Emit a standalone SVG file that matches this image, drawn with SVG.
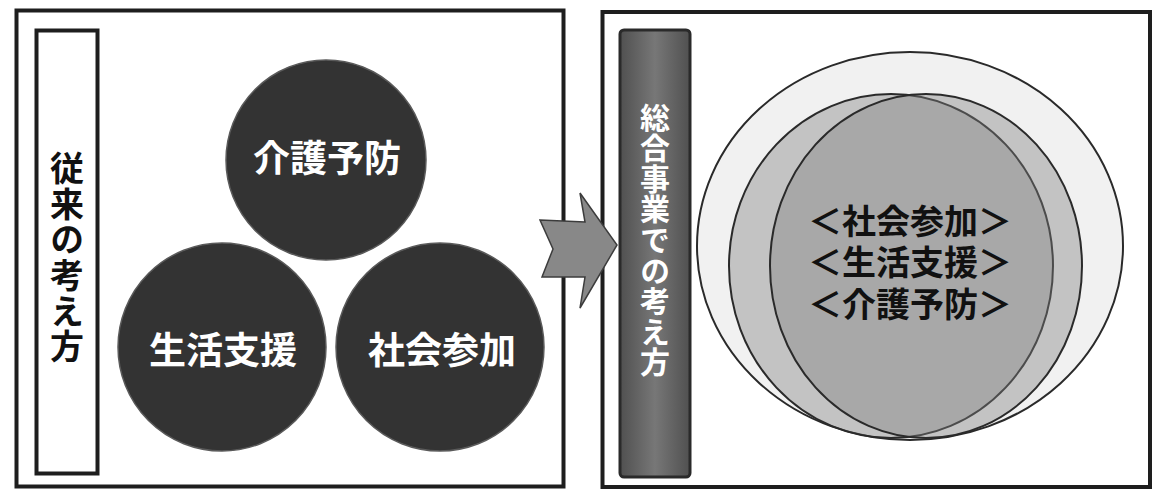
<svg xmlns="http://www.w3.org/2000/svg" width="1153" height="491" viewBox="0 0 1153 491">
  <defs>
    <style>
      .frame { fill: #ffffff; stroke: #1e1e1e; stroke-width: 4; }
      .jp { font-family: "Noto Sans CJK JP", "Noto Sans CJK SC", sans-serif; font-weight: bold; text-anchor: middle; dominant-baseline: central; }
      .vert { writing-mode: vertical-rl; text-orientation: upright; }
      .ball { fill: #333333; stroke: #5a5a5a; stroke-width: 1.5; }
      .ballText { fill: #ffffff; font-size: 37px; }
      .lens { fill: #808080; fill-opacity: 0.4; stroke: #2a2a2a; stroke-width: 2; }
      .inner { fill: #111111; font-size: 34px; }
    </style>
    <linearGradient id="labelFill" x1="0" y1="0" x2="1" y2="0">
      <stop offset="0" stop-color="#505050"/>
      <stop offset="0.5" stop-color="#777777"/>
      <stop offset="1" stop-color="#505050"/>
    </linearGradient>
  </defs>

  <rect width="1153" height="491" fill="#ffffff"/>

  <!-- Left panel -->
  <g id="panel-left">
    <rect class="frame" x="16.5" y="10.5" width="547" height="476"/>
  </g>
  <g id="label-left">
    <rect x="36.5" y="30.5" width="61" height="443" fill="#ffffff" stroke="#1e1e1e" stroke-width="4"/>
    <text class="jp vert" x="67" y="258" font-size="34" letter-spacing="1.6" fill="#111111">従来の考え方</text>
  </g>
  <g id="node-kaigoyobou">
    <circle class="ball" cx="326" cy="160" r="100"/>
    <text class="jp ballText" x="327" y="156">介護予防</text>
  </g>
  <g id="node-seikatsushien">
    <circle class="ball" cx="222" cy="347" r="104"/>
    <text class="jp ballText" x="223" y="348">生活支援</text>
  </g>
  <g id="node-shakaisanka">
    <circle class="ball" cx="440" cy="347" r="104"/>
    <text class="jp ballText" x="442" y="348">社会参加</text>
  </g>

  <!-- Right panel -->
  <g id="panel-right">
    <rect class="frame" x="602.5" y="12" width="547.5" height="475"/>
  </g>
  <g id="label-right">
    <rect x="620" y="30" width="70" height="447" rx="4" fill="url(#labelFill)" stroke="#2a2a2a" stroke-width="3"/>
    <text class="jp vert" x="655" y="240" font-size="30" letter-spacing="0.6" fill="#ffffff">総合事業での考え方</text>
  </g>
  <g id="node-integrated">
    <ellipse cx="910" cy="246" rx="213" ry="194" fill="#f1f1f1" stroke="#2a2a2a" stroke-width="2"/>
    <ellipse class="lens" cx="891" cy="266" rx="162" ry="172"/>
    <ellipse class="lens" cx="926" cy="266" rx="156" ry="172"/>
    <text class="jp inner" x="910" y="219">＜社会参加＞</text>
    <text class="jp inner" x="910" y="260.5">＜生活支援＞</text>
    <text class="jp inner" x="910" y="302">＜介護予防＞</text>
  </g>

  <!-- Connectors -->
  <g id="connectors">
    <polygon points="540,220 585,222 580,193 617,245 580,308 585,277 542,277 553,249" fill="#888888" stroke="#3c3c3c" stroke-width="1.5" stroke-linejoin="miter"/>
  </g>
</svg>
